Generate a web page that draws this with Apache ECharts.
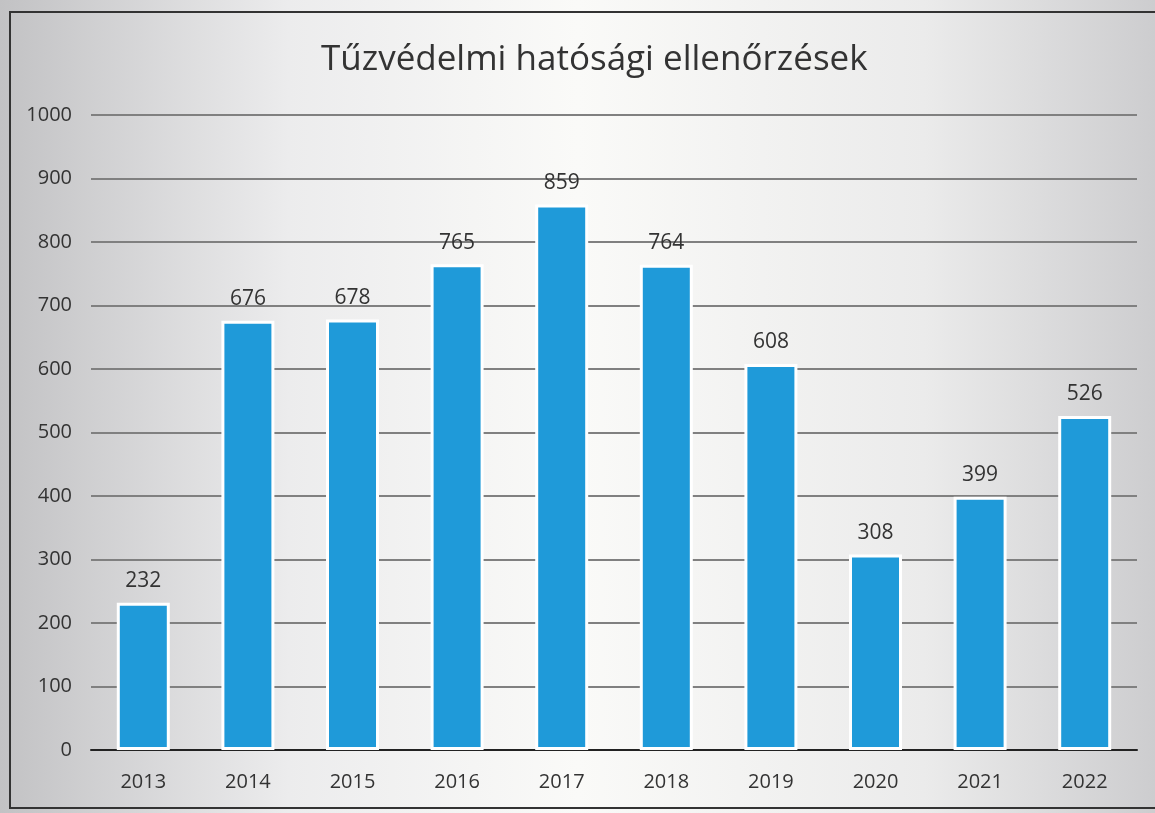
<!DOCTYPE html>
<html>
<head>
<meta charset="utf-8">
<script src="https://cdn.jsdelivr.net/npm/echarts@6/dist/echarts.min.js"></script>
<style>
  html, body { margin: 0; padding: 0; background: #fff; }
  #chart { width: 1155px; height: 813px; }
</style>
</head>
<body>
<div id="chart"></div>
<script>
const years = ["2013", "2014", "2015", "2016", "2017", "2018", "2019", "2020", "2021", "2022"];
const checks = [232, 676, 678, 765, 859, 764, 608, 308, 399, 526];
const yTicks = [0, 100, 200, 300, 400, 500, 600, 700, 800, 900, 1000];

const myChart = echarts.init(document.getElementById("chart"));

const option = {
  backgroundColor: {
    type: "linear", x: 0, y: 0, x2: 1, y2: 0,
    colorStops: [
      { offset: 0, color: "#c2c2c4" },
      { offset: 0.25, color: "#ececed" },
      { offset: 0.5, color: "#fafaf8" },
      { offset: 0.8, color: "#ebebeb" },
      { offset: 1, color: "#cdcdcf" }
    ]
  },
  textStyle: { fontFamily: "Open Sans" },
  graphic: [{
    type: "rect",
    shape: { x: 10, y: 12, width: 1150, height: 796 },
    style: { fill: "none", stroke: "#333", lineWidth: 2 },
    silent: true
  }],
  title: {
    text: "Tűzvédelmi hatósági ellenőrzések",
    left: 316,
    top: 38,
    textStyle: { fontSize: 35, fontWeight: "normal", color: "#333", fontFamily: "Open Sans" }
  },
  grid: { left: 91, right: 18, top: 115, bottom: 63 },
  xAxis: {
    type: "category",
    data: years,
    axisLine: { lineStyle: { color: "#222", width: 2 } },
    axisTick: { show: false },
    axisLabel: { fontSize: 20, color: "#333", margin: 22 }
  },
  yAxis: {
    type: "value",
    min: yTicks[0],
    max: yTicks[yTicks.length - 1],
    interval: 100,
    axisLine: { show: false },
    axisTick: { show: false },
    axisLabel: { fontSize: 20, color: "#333", margin: 19, formatter: v => String(v) },
    splitLine: { lineStyle: { color: "#808080", width: 2 } }
  },
  series: [{
    type: "bar",
    data: checks,
    barWidth: 53,
    itemStyle: { color: "#1f9ad9", borderColor: "#ffffff", borderWidth: 3 },
    label: { show: true, position: "top", distance: 11, fontSize: 21, color: "#333" }
  }]
};
option && myChart.setOption(option);
</script>
</body>
</html>
